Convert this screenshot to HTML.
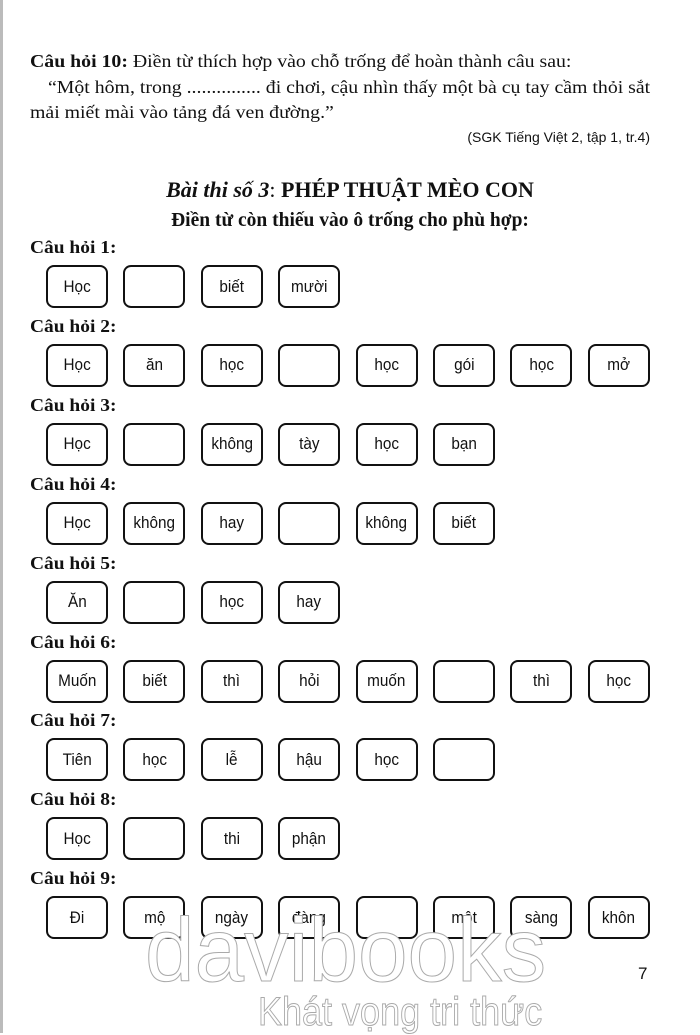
<!DOCTYPE html>
<html><head><meta charset="utf-8"><style>
body{margin:0;width:700px;height:1033px;background:#fff;position:relative;overflow:hidden;font-family:"Liberation Serif",serif;color:#111}
.edge{position:absolute;left:0;top:0;width:3px;height:1033px;background:#bbb}
.t{position:absolute;font-size:17px;white-space:nowrap}
.w{transform-origin:left top;transform:scaleX(1.1);font-size:18px}
.lab{position:absolute;left:30px;font-weight:bold;font-size:18px;transform-origin:left top;transform:scaleX(1.08)}
.b{position:absolute;width:58px;height:39px;border:2.5px solid #111;border-radius:8px;display:flex;align-items:center;justify-content:center;font-family:"Liberation Sans",sans-serif;font-size:17px}
.b span{display:inline-block;transform:scaleX(0.9)}
.wm{position:absolute;font-family:"Liberation Sans",sans-serif;color:#fff;-webkit-text-stroke:1px #aaa;white-space:nowrap;transform-origin:left top}
</style></head><body>
<div class="edge"></div>
<div class="t w" style="left:30px;top:51px"><b>Câu hỏi 10:</b> Điền từ thích hợp vào chỗ trống để hoàn thành câu sau:</div>
<div class="t w" style="left:48px;top:77px">“Một hôm, trong ............... đi chơi, cậu nhìn thấy một bà cụ tay cầm thỏi sắt</div>
<div class="t w" style="left:30px;top:102px">mải miết mài vào tảng đá ven đường.”</div>
<div class="t" style="right:50px;top:129px;font-family:'Liberation Sans',sans-serif;font-size:14px">(SGK Tiếng Việt 2, tập 1, tr.4)</div>
<div class="t" style="left:0;width:700px;text-align:center;top:177px;font-size:22px"><i><b>Bài thi số 3</b></i>: <b>PHÉP THUẬT MÈO CON</b></div>
<div class="t" style="left:0;width:700px;text-align:center;top:210px;font-size:19.5px;font-weight:bold">Điền từ còn thiếu vào ô trống cho phù hợp:</div>
<div id="rows"></div>
<div class="wm" style="left:145px;top:900px;font-size:90px;transform:scaleX(0.99)">davibooks</div>
<div class="wm" style="left:258px;top:990px;font-size:40px;transform:scaleX(0.9)">Khát vọng tri thức</div>
<div class="t" style="left:638px;top:964px;font-family:'Liberation Sans',sans-serif;font-size:17px">7</div>
<script>
var d=[["Học","","biết","mười"],["Học","ăn","học","","học","gói","học","mở"],["Học","","không","tày","học","bạn"],["Học","không","hay","","không","biết"],["Ăn","","học","hay"],["Muốn","biết","thì","hỏi","muốn","","thì","học"],["Tiên","học","lễ","hậu","học",""],["Học","","thi","phận"],["Đi","mộ","ngày","đàng","","một","sàng","khôn"]];
var h="";
d.forEach(function(r,i){var y=265+i*78.9;h+='<div class="lab" style="top:'+(y-28)+'px">Câu hỏi '+(i+1)+':</div>';
r.forEach(function(w,j){h+='<div class="b" style="left:'+(46+j*77.4)+'px;top:'+y+'px"><span>'+w+'</span></div>';});});
document.getElementById("rows").innerHTML=h;
</script>
</body></html>
